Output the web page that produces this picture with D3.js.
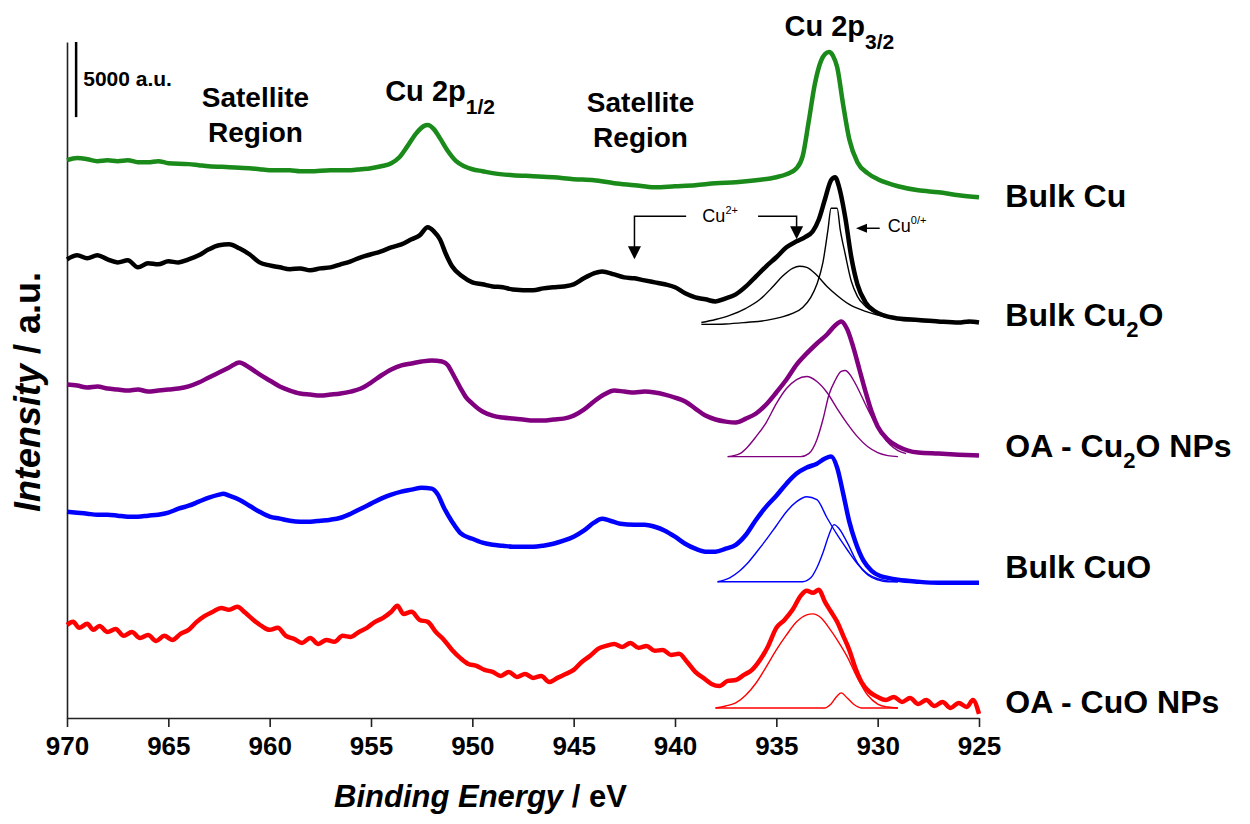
<!DOCTYPE html>
<html>
<head>
<meta charset="utf-8">
<script src="https://cdn.jsdelivr.net/npm/d3@7"></script>
<style>
body { margin: 0; background: #fff; }
text { font-family: "Liberation Sans", Arial, sans-serif; font-weight: bold; fill: #000; }
</style>
</head>
<body>
<script>
// binding energy ticks (eV)
var energyTicks = [970, 965, 960, 955, 950, 945, 940, 935, 930, 925];

// spectra: [binding energy eV, intensity in 1000 a.u.] (stacked, offsets included)
var bulkCu = [[970,37.13],[969.5,37.27],[969,37.2],[968.5,37.07],[968,37.13],[967.5,37.07],[967,37.13],[966.5,37.0],[966,37.0],[965.5,37.07],[965,36.93],[964,36.87],[963.5,36.8],[963,36.73],[962,36.67],[961,36.6],[960.5,36.53],[960,36.47],[959,36.47],[958.5,36.4],[958,36.4],[957,36.47],[956,36.47],[955.5,36.53],[955,36.6],[954.5,36.73],[954,36.93],[953.6,37.33],[953.2,38.07],[952.8,38.87],[952.4,39.4],[952.2,39.47],[951.9,39.2],[951.6,38.6],[951.2,37.73],[950.8,37.07],[950.4,36.73],[950,36.53],[949.5,36.4],[949,36.27],[948,36.13],[947,36.07],[946,36.0],[945,35.87],[944,35.8],[943,35.6],[942,35.47],[941,35.33],[940,35.4],[939,35.47],[938,35.6],[937,35.67],[936,35.8],[935,36.0],[934.5,36.2],[934,36.6],[933.7,37.4],[933.4,39.73],[933.1,42.2],[932.8,43.73],[932.6,44.2],[932.4,44.33],[932.2,44.07],[932.0,43.33],[931.7,40.8],[931.4,38.53],[931.0,37.0],[930.5,36.27],[930,35.87],[929.5,35.6],[929,35.4],[928,35.13],[927,35.0],[926,34.8],[925,34.67]];

var bulkCu2O = [[970,30.53],[969.5,30.8],[969,30.6],[968.5,30.8],[968,30.53],[967.5,30.33],[967,30.47],[966.5,30.0],[966,30.27],[965.5,30.2],[965,30.4],[964.5,30.33],[964,30.53],[963.5,30.8],[963,31.2],[962.5,31.47],[962,31.53],[961.5,31.27],[961,30.87],[960.5,30.33],[960,30.13],[959.5,30.0],[959,29.87],[958.5,29.93],[958,29.8],[957.5,29.93],[957,30.0],[956.5,30.2],[956,30.4],[955.5,30.67],[955,30.87],[954.5,31.07],[954,31.33],[953.5,31.53],[953,31.87],[952.6,32.13],[952.2,32.67],[951.9,32.4],[951.6,31.87],[951.3,30.87],[951,30.07],[950.5,29.4],[950,29.0],[949.5,28.87],[949,28.73],[948.5,28.67],[948,28.53],[947,28.47],[946.5,28.6],[946,28.67],[945.5,28.73],[945,28.87],[944.5,29.27],[944,29.6],[943.6,29.73],[943,29.53],[942.5,29.33],[942,29.27],[941.5,29.13],[941,29.0],[940.5,28.87],[940,28.67],[939.5,28.27],[939,28.0],[938.5,27.87],[938,27.73],[937.5,27.93],[937,28.2],[936.5,28.73],[936,29.4],[935.5,30.07],[935,30.67],[934.5,31.33],[934,31.73],[933.6,32.0],[933.2,32.4],[932.9,33.2],[932.6,34.53],[932.3,35.8],[932.1,36.0],[931.9,35.33],[931.6,33.33],[931.3,30.67],[931.0,28.87],[930.6,27.67],[930.2,27.13],[929.7,26.8],[929,26.6],[928,26.5],[927,26.4],[926,26.33],[925.5,26.4],[925,26.33]];

var oaCu2O = [[970,22.2],[969.5,22.13],[969,22.0],[968.5,22.07],[968,21.93],[967.5,21.87],[967,21.8],[966.5,21.87],[966,21.73],[965.5,21.8],[965,21.87],[964.5,21.93],[964,22.07],[963.5,22.33],[963,22.67],[962.5,23.0],[962,23.33],[961.5,23.67],[961,23.33],[960.5,22.87],[960,22.47],[959.5,22.07],[959,21.8],[958.5,21.6],[958,21.53],[957.5,21.47],[957,21.53],[956.5,21.6],[956,21.73],[955.5,21.93],[955,22.33],[954.5,22.8],[954,23.2],[953.5,23.47],[953,23.6],[952.5,23.73],[952,23.8],[951.5,23.73],[951.2,23.47],[951,23.0],[950.6,22.0],[950.3,21.33],[950,20.93],[949.5,20.4],[949,20.13],[948.5,20.0],[948,19.93],[947.5,19.87],[947,19.8],[946.5,19.8],[946,19.87],[945.5,19.93],[945,20.13],[944.5,20.53],[944,21.07],[943.5,21.53],[943,21.8],[942.5,21.73],[942,21.67],[941.5,21.73],[941,21.67],[940.5,21.53],[940,21.33],[939.5,21.07],[939,20.6],[938.5,20.13],[938,19.87],[937.5,19.73],[937,19.67],[936.5,19.93],[936,20.27],[935.5,20.87],[935,21.67],[934.5,22.53],[934,23.53],[933.5,24.27],[933,24.93],[932.5,25.53],[932.1,26.13],[931.8,26.4],[931.5,25.87],[931.2,24.67],[930.9,23.2],[930.6,21.73],[930.3,20.4],[930,19.4],[929.5,18.53],[929,18.07],[928.5,17.8],[928,17.67],[927,17.6],[926,17.53],[925,17.47]];

var bulkCuO = [[970,13.73],[969.5,13.67],[969,13.6],[968.5,13.53],[968,13.53],[967.5,13.47],[967,13.4],[966.5,13.4],[966,13.47],[965.5,13.53],[965,13.67],[964.5,13.93],[964,14.13],[963.5,14.4],[963,14.67],[962.5,14.87],[962.3,14.93],[962,14.8],[961.5,14.53],[961,14.13],[960.5,13.73],[960,13.4],[959.5,13.27],[959,13.13],[958.5,13.07],[958,13.07],[957.5,13.13],[957,13.2],[956.5,13.33],[956,13.6],[955.5,13.93],[955,14.27],[954.5,14.6],[954,14.87],[953.5,15.07],[953,15.2],[952.5,15.33],[952,15.27],[951.7,14.87],[951.4,14.0],[951,13.07],[950.6,12.33],[950,11.93],[949.5,11.67],[949,11.53],[948.5,11.47],[948,11.4],[947.5,11.4],[947,11.4],[946.5,11.47],[946,11.6],[945.5,11.8],[945,12.07],[944.5,12.47],[944,13.0],[943.6,13.27],[943.2,13.13],[942.7,12.93],[942,12.87],[941.5,12.87],[941,12.73],[940.5,12.47],[940,12.07],[939.5,11.6],[939,11.27],[938.5,11.07],[938,11.07],[937.5,11.27],[937,11.53],[936.5,12.2],[936,13.2],[935.5,14.07],[935,14.8],[934.5,15.6],[934,16.27],[933.5,16.67],[933,16.93],[932.6,17.27],[932.3,17.4],[932.0,16.67],[931.7,14.93],[931.4,13.07],[931.1,11.73],[930.7,10.47],[930.3,9.8],[929.9,9.47],[929.5,9.33],[929,9.2],[928,9.07],[927,9.0],[926,9.0],[925,9.0]];

var oaCuO = [[970,6.2],[969.7,6.4],[969.4,6.0],[969,6.27],[968.7,5.87],[968.4,6.13],[968,5.73],[967.6,5.93],[967.2,5.47],[966.8,5.73],[966.4,5.33],[966,5.53],[965.6,5.13],[965.2,5.47],[964.8,5.2],[964.4,5.6],[964,5.87],[963.6,6.4],[963.2,6.8],[962.8,7.07],[962.4,7.33],[962,7.2],[961.6,7.4],[961.2,7.0],[960.8,6.53],[960.4,6.13],[960,5.87],[959.6,6.0],[959.2,5.47],[958.8,5.27],[958.4,5.0],[958,5.33],[957.6,4.93],[957.2,5.2],[956.8,5.07],[956.4,5.47],[956,5.4],[955.6,5.73],[955.2,6.0],[954.8,6.4],[954.4,6.67],[954,7.07],[953.7,7.47],[953.4,6.93],[953,7.07],[952.6,6.53],[952.2,6.4],[951.8,5.73],[951.4,5.2],[951,4.53],[950.6,4.0],[950.2,3.6],[949.8,3.47],[949.4,3.2],[949,3.07],[948.6,2.8],[948.2,3.07],[947.8,2.73],[947.4,2.93],[947,2.67],[946.6,2.8],[946.2,2.4],[945.8,2.67],[945.4,2.93],[945,3.2],[944.6,3.73],[944.2,4.13],[943.8,4.6],[943.4,4.8],[943,4.93],[942.6,4.73],[942.2,5.0],[941.8,4.67],[941.4,4.8],[941,4.47],[940.6,4.53],[940.2,4.2],[939.8,4.27],[939.4,3.73],[939,3.07],[938.6,2.67],[938.2,2.27],[937.8,2.13],[937.4,2.47],[937,2.53],[936.6,2.87],[936.2,3.2],[935.8,3.87],[935.4,4.8],[935,6.0],[934.6,6.53],[934.2,7.2],[933.8,8.13],[933.5,8.47],[933.2,8.33],[932.9,8.53],[932.6,7.73],[932.3,7.07],[932.0,6.4],[931.7,5.47],[931.4,4.53],[931.1,3.33],[930.8,2.4],[930.4,1.73],[930,1.4],[929.6,1.2],[929.2,1.4],[928.8,1.07],[928.4,1.33],[928,0.93],[927.6,1.2],[927.2,0.8],[926.8,1.07],[926.4,0.67],[926,1.0],[925.6,0.73],[925.3,1.2],[925,0.27]];

// fitted components of the Cu 2p3/2 peak
var fitCu2O_0 = [[938.7,26.2],[937.5,26.23],[936.5,26.33],[935.5,26.47],[934.8,26.67],[934.2,26.93],[933.7,27.33],[933.3,28.0],[933.0,28.87],[932.7,30.33],[932.45,32.53],[932.3,33.93],[932.0,33.93],[931.85,32.53],[931.6,30.87],[931.3,29.07],[931.0,28.07],[930.6,27.4],[930.0,26.93],[929.3,26.67],[928.5,26.47],[927.5,26.37],[926.5,26.3],[925.5,26.27]];
var fitCu2O_2 = [[938.7,26.33],[938,26.53],[937.3,26.8],[936.5,27.27],[935.8,27.87],[935.2,28.67],[934.7,29.4],[934.2,29.93],[933.85,30.07],[933.5,30.0],[933.0,29.47],[932.5,28.73],[932.0,28.13],[931.4,27.53],[930.6,27.07],[929.7,26.73],[928.5,26.5],[927,26.37],[925.5,26.3]];
var fitOaCu2O_2 = [[937.4,17.4],[936.8,17.6],[936.4,18.07],[936,18.73],[935.5,19.67],[935,20.93],[934.5,21.93],[934,22.53],[933.5,22.73],[933,22.4],[932.5,21.67],[932,20.6],[931.5,19.6],[931,18.73],[930.5,18.07],[930,17.67],[929.5,17.47],[929,17.4]];
var fitOaCu2O_0 = [[937.4,17.4],[933.8,17.4],[933.4,17.6],[933.0,18.53],[932.7,19.87],[932.4,21.53],[932.1,22.47],[931.8,23.07],[931.6,23.13],[931.3,22.73],[931.0,22.0],[930.6,20.87],[930.2,19.8],[929.8,18.87],[929.4,18.2],[929,17.8],[928.6,17.6]];
var fitCuO_2 = [[937.9,9.07],[937.3,9.33],[936.8,9.8],[936.4,10.33],[936,11.0],[935.5,11.87],[935,12.8],[934.5,13.73],[934,14.4],[933.5,14.73],[933,14.53],[932.5,13.33],[932,12.2],[931.5,11.2],[931,10.27],[930.5,9.6],[930,9.27],[929.5,9.13],[929,9.07]];
var fitCuO_0 = [[937.9,9.07],[933.7,9.07],[933.3,9.33],[933.0,10.0],[932.7,11.0],[932.4,12.2],[932.15,12.87],[931.9,12.6],[931.5,11.67],[931.0,10.33],[930.5,9.53],[930,9.2],[929.5,9.07],[929,9.07]];
var fitOaCuO_2 = [[938,0.67],[937.5,0.8],[937,1.0],[936.5,1.53],[936,2.33],[935.5,3.4],[935,4.53],[934.5,5.53],[934,6.4],[933.5,6.87],[933.2,6.93],[932.8,6.67],[932.4,6.0],[932,5.2],[931.5,4.07],[931,2.67],[930.5,1.53],[930,0.93],[929.5,0.73],[929,0.67]];
var fitOaCuO_0 = [[938,0.67],[932.6,0.67],[932.3,0.93],[932.0,1.47],[931.8,1.67],[931.5,1.33],[931.2,0.93],[930.8,0.67],[929,0.67]];

var margin = {top: 42, right: 271, bottom: 106, left: 67},
    width = 1250 - margin.left - margin.right,
    height = 824 - margin.top - margin.bottom;

const svg = d3.select('body')
    .append('svg')
        .attr('width', 1250)
        .attr('height', 824)
        .style('background', '#fff')
    .append('g')
        .attr('transform', `translate(${margin.left},${margin.top})`);

const x = d3.scaleLinear().domain([970, 925]).range([0, width]);
const y = d3.scaleLinear().domain([0, 45]).range([height, 0]);

const line = d3.line()
    .x(d => x(d[0]))
    .y(d => y(d[1]))
    .curve(d3.curveMonotoneX);

const spectra = [
    {data: bulkCu, color: '#1a8a1a', fits: [], label: [['Bulk Cu']], ly: 34.0},
    {data: bulkCu2O, color: '#000000', fits: [fitCu2O_0, fitCu2O_2], label: [['Bulk Cu'], ['2', 'sub'], ['O']], ly: 26.07},
    {data: oaCu2O, color: '#800080', fits: [fitOaCu2O_2, fitOaCu2O_0], label: [['OA - Cu'], ['2', 'sub'], ['O NPs']], ly: 17.4},
    {data: bulkCuO, color: '#0000ff', fits: [fitCuO_2, fitCuO_0], label: [['Bulk CuO']], ly: 9.33},
    {data: oaCuO, color: '#ff0000', fits: [fitOaCuO_2, fitOaCuO_0], label: [['OA - CuO NPs']], ly: 0.33}
];

// axes
const xAxis = svg.append('g')
    .attr('transform', `translate(0,${height})`)
    .call(d3.axisBottom(x).tickValues(energyTicks).tickSize(9).tickSizeOuter(0).tickPadding(10));
xAxis.select('.domain').attr('stroke', '#222').attr('stroke-width', 1.6);
xAxis.selectAll('.tick line').attr('stroke', '#222').attr('stroke-width', 1.6);
xAxis.selectAll('.tick text')
    .style('font-family', '"Liberation Sans", Arial, sans-serif')
    .style('font-weight', 'bold')
    .style('font-size', '26px')
    .attr('fill', '#000');

const yAxis = svg.append('g')
    .call(d3.axisLeft(y).tickValues([]).tickSizeOuter(0));
yAxis.select('.domain').attr('stroke', '#222').attr('stroke-width', 1.6);

// fits (thin) under the spectra (thick)
spectra.forEach(s => {
    s.fits.forEach(f => {
        svg.append('path')
            .datum(f)
            .attr('fill', 'none')
            .attr('stroke', s.color)
            .attr('stroke-width', 1.4)
            .attr('d', line);
    });
});
spectra.forEach(s => {
    svg.append('path')
        .datum(s.data)
        .attr('fill', 'none')
        .attr('stroke', s.color)
        .attr('stroke-width', 4.5)
        .attr('stroke-linejoin', 'round')
        .attr('d', line);
});

// sample labels
spectra.forEach(s => {
    const t = svg.append('text')
        .attr('x', x(923.7))
        .attr('y', y(s.ly))
        .style('font-size', '32px');
    s.label.forEach(p => {
        if (p[1] === 'sub') {
            t.append('tspan').attr('dy', 11).style('font-size', '22px').text(p[0]);
        } else {
            const ts = t.append('tspan').text(p[0]);
            if (t.selectAll('tspan').size() > 1) ts.attr('dy', -11);
        }
    });
});

// 5000 a.u. scale bar
svg.append('line')
    .attr('x1', x(969.55)).attr('x2', x(969.55))
    .attr('y1', y(45)).attr('y2', y(40))
    .attr('stroke', '#000').attr('stroke-width', 2.5);
svg.append('text')
    .attr('x', x(969.2)).attr('y', y(42.07))
    .style('font-size', '21px')
    .text('5000 a.u.');

// region labels
function twoLine(e, v, a, b) {
    const t = svg.append('text').attr('x', x(e)).attr('y', y(v))
        .attr('text-anchor', 'middle').style('font-size', '28px');
    t.append('tspan').attr('x', x(e)).text(a);
    t.append('tspan').attr('x', x(e)).attr('dy', 35).text(b);
}
twoLine(960.7, 40.67, 'Satellite', 'Region');
twoLine(941.7, 40.33, 'Satellite', 'Region');

function peakLabel(e, v, sub) {
    const t = svg.append('text').attr('x', x(e)).attr('y', y(v)).style('font-size', '29px');
    t.append('tspan').text('Cu 2p');
    t.append('tspan').attr('dy', 13).style('font-size', '21px').text(sub);
}
peakLabel(954.3, 41.07, '1/2');
peakLabel(934.6, 45.4, '3/2');

// Cu2+ / Cu0/+ annotations
const ann = svg.append('g').attr('stroke', '#000').attr('stroke-width', 1.5).attr('fill', 'none');
const arrowY = y(33.4);
ann.append('path').attr('d', `M${x(939.45)},${arrowY}H${x(942)}V${y(30.53) - 12}`);
ann.append('path').attr('d', `M${x(935.9)},${arrowY}H${x(934)}V${y(31.87) - 12}`);
ann.append('path').attr('d', `M${x(929.9)},${y(32.6)}H${x(931.07) + 10}`);
function head(px, py, dir) {
    // filled triangle with tip at (px, py)
    const pts = dir === 'down'
        ? [[px, py], [px - 6.5, py - 13], [px + 6.5, py - 13]]
        : [[px, py], [px + 11, py - 4.5], [px + 11, py + 4.5]];
    svg.append('path').attr('d', 'M' + pts.join('L') + 'Z').attr('fill', '#000');
}
head(x(942), y(30.53), 'down');
head(x(934), y(31.87), 'down');
head(x(931.07), y(32.6), 'left');

function ionLabel(e, v, sup) {
    const t = svg.append('text').attr('x', x(e)).attr('y', y(v))
        .style('font-size', '18px').style('font-weight', 'normal');
    t.append('tspan').text('Cu');
    t.append('tspan').attr('dy', -8).style('font-size', '11px').text(sup);
}
ionLabel(938.65, 33.0, '2+');
ionLabel(929.5, 32.33, '0/+');

// axis titles
const xt = svg.append('text')
    .attr('x', x(949.6)).attr('y', height + 89)
    .attr('text-anchor', 'middle')
    .style('font-size', '31px');
xt.append('tspan').style('font-style', 'italic').text('Binding Energy');
xt.append('tspan').text(' / eV');

const yt = svg.append('text')
    .attr('transform', `translate(${-27},${y(21.7)}) rotate(-90)`)
    .attr('text-anchor', 'middle')
    .style('font-size', '36px');
yt.append('tspan').style('font-style', 'italic').text('Intensity');
yt.append('tspan').text(' / a.u.');
</script>
</body>
</html>
